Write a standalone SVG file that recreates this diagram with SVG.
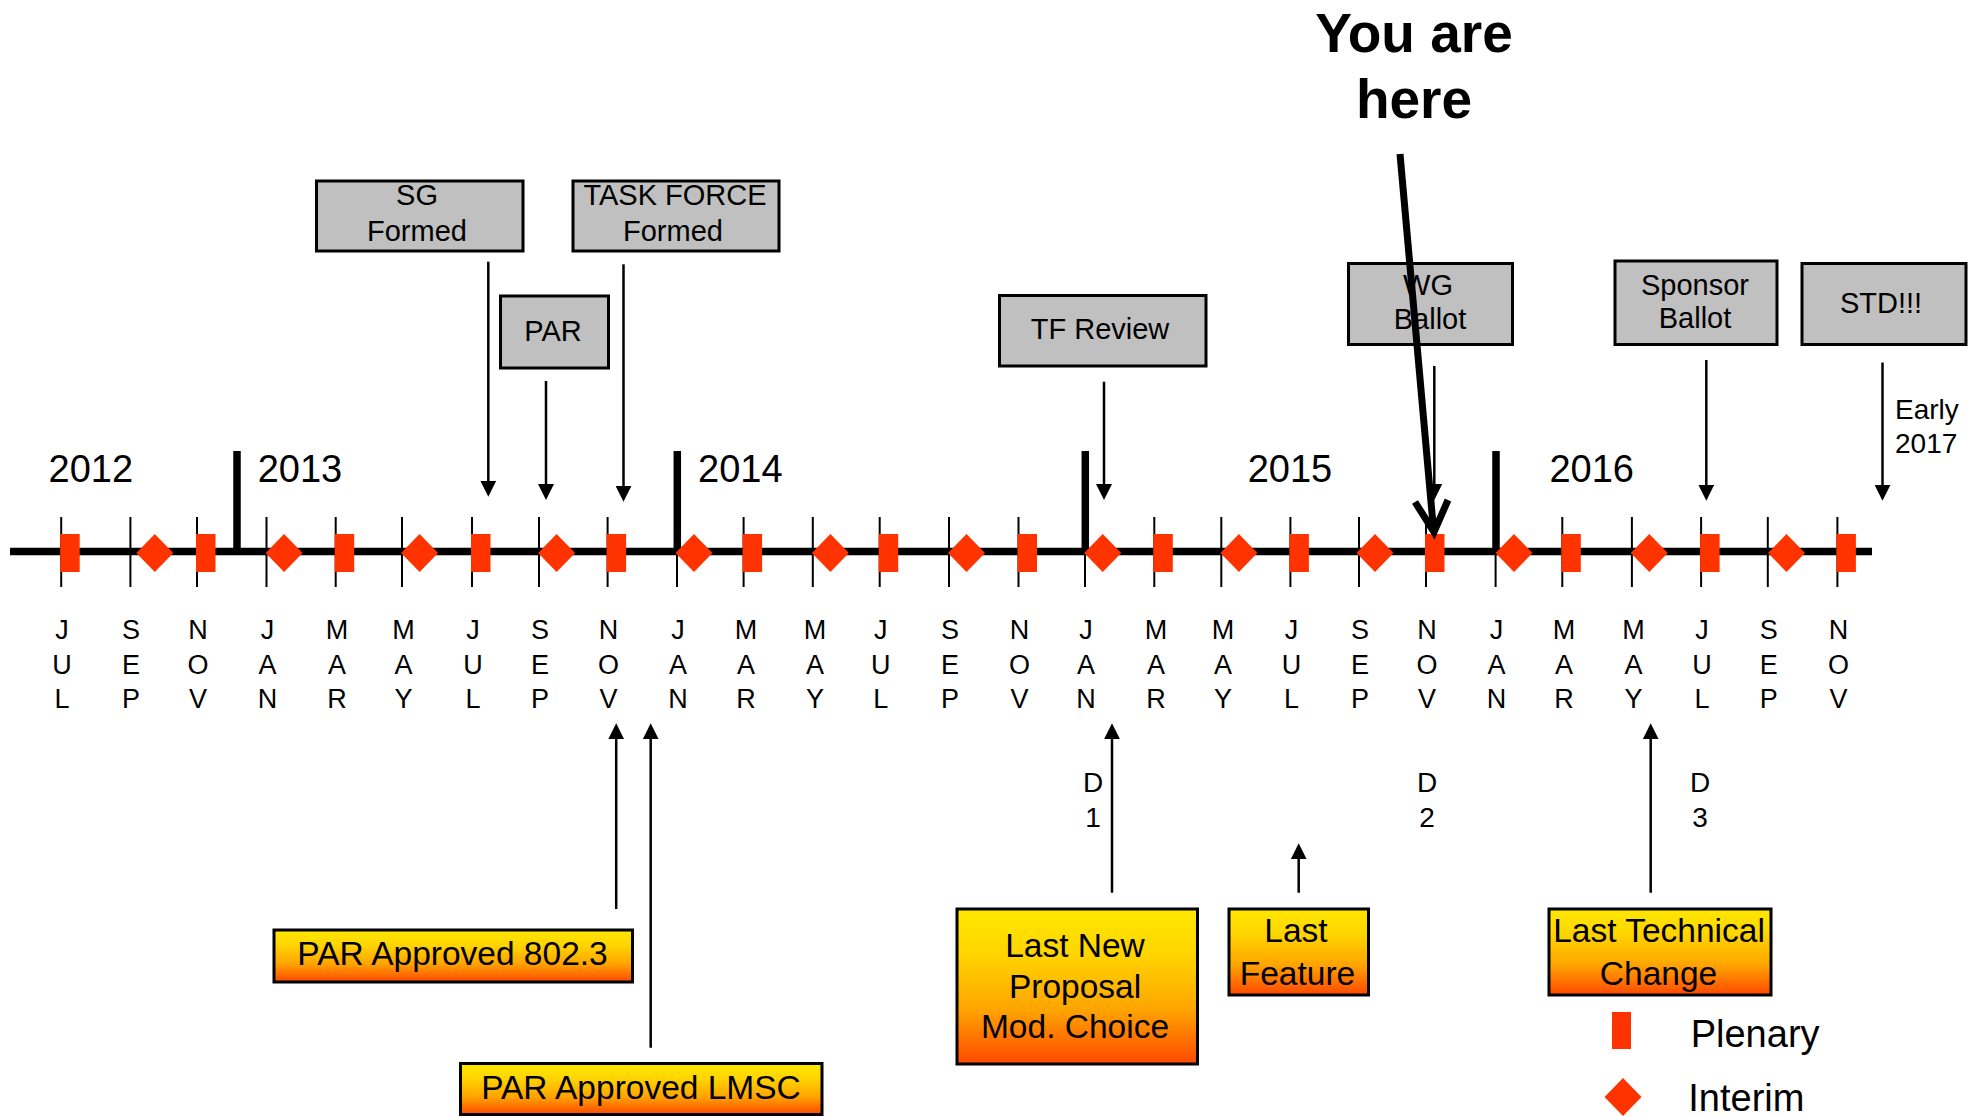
<svg xmlns="http://www.w3.org/2000/svg" xmlns:xlink="http://www.w3.org/1999/xlink" width="1974" height="1116" viewBox="0 0 1974 1116">
<style>
text{font-family:"Liberation Sans",Arial,sans-serif;fill:#000}
.m{font-size:27px;text-anchor:middle}
.yr{font-size:38px}
.gb{fill:#C0C0C0;stroke:#000;stroke-width:3}
.ob{fill:url(#og);stroke:#000;stroke-width:3}
.gt{font-size:29px;text-anchor:middle}
.ot{font-size:33.5px;text-anchor:middle}
.d{font-size:28px;text-anchor:middle}
.tick{stroke:#000;stroke-width:2}
.ytick{stroke:#000;stroke-width:7.5}
.arr{stroke:#000;stroke-width:2.5;fill:none;marker-end:url(#ah)}
.red{fill:#FF3300}
</style>
<defs>
<linearGradient id="og" x1="0" y1="0" x2="0" y2="1">
<stop offset="0" stop-color="#FFE800"/>
<stop offset="0.3" stop-color="#FFD400"/>
<stop offset="0.65" stop-color="#FFA400"/>
<stop offset="1" stop-color="#FF4800"/>
</linearGradient>
<marker id="ah" viewBox="0 0 16 16" refX="10" refY="8" markerWidth="16" markerHeight="16" markerUnits="userSpaceOnUse" orient="auto">
<path d="M0,0 L16,8 L0,16 Z" fill="#000"/>
</marker>
<path id="dia" d="M-18.5,0 L0,-19 L18.5,0 L0,19 Z"/>
<rect id="ple" x="0" y="0" width="19.5" height="38"/>
</defs>
<rect width="1974" height="1116" fill="#fff"/>

<g id="timeline">
<line x1="10" y1="551.5" x2="1872" y2="551.5" stroke="#000" stroke-width="7.5"/>
<g class="tick">
<line x1="61.2" y1="517" x2="61.2" y2="587"/>
<line x1="130.4" y1="517" x2="130.4" y2="587"/>
<line x1="197" y1="517" x2="197" y2="587"/>
<line x1="266.5" y1="517" x2="266.5" y2="587"/>
<line x1="335.7" y1="517" x2="335.7" y2="587"/>
<line x1="402" y1="517" x2="402" y2="587"/>
<line x1="472" y1="517" x2="472" y2="587"/>
<line x1="539" y1="517" x2="539" y2="587"/>
<line x1="607.6" y1="517" x2="607.6" y2="587"/>
<line x1="677" y1="517" x2="677" y2="587"/>
<line x1="743.6" y1="517" x2="743.6" y2="587"/>
<line x1="812.8" y1="517" x2="812.8" y2="587"/>
<line x1="879.7" y1="517" x2="879.7" y2="587"/>
<line x1="949" y1="517" x2="949" y2="587"/>
<line x1="1018.5" y1="517" x2="1018.5" y2="587"/>
<line x1="1085" y1="517" x2="1085" y2="587"/>
<line x1="1154.3" y1="517" x2="1154.3" y2="587"/>
<line x1="1221.3" y1="517" x2="1221.3" y2="587"/>
<line x1="1290.4" y1="517" x2="1290.4" y2="587"/>
<line x1="1359" y1="517" x2="1359" y2="587"/>
<line x1="1426" y1="517" x2="1426" y2="587"/>
<line x1="1495.6" y1="517" x2="1495.6" y2="587"/>
<line x1="1562.3" y1="517" x2="1562.3" y2="587"/>
<line x1="1631.9" y1="517" x2="1631.9" y2="587"/>
<line x1="1701.1" y1="517" x2="1701.1" y2="587"/>
<line x1="1767.8" y1="517" x2="1767.8" y2="587"/>
<line x1="1837.4" y1="517" x2="1837.4" y2="587"/>
</g>
<g class="ytick">
<line x1="237" y1="451" x2="237" y2="552"/>
<line x1="677.3" y1="451" x2="677.3" y2="552"/>
<line x1="1085.3" y1="451" x2="1085.3" y2="552"/>
<line x1="1496" y1="451" x2="1496" y2="552"/>
</g>
<g class="red">
<use xlink:href="#ple" x="60.2" y="534"/>
<use xlink:href="#ple" x="196" y="534"/>
<use xlink:href="#ple" x="334.7" y="534"/>
<use xlink:href="#ple" x="471" y="534"/>
<use xlink:href="#ple" x="606.6" y="534"/>
<use xlink:href="#ple" x="742.6" y="534"/>
<use xlink:href="#ple" x="878.7" y="534"/>
<use xlink:href="#ple" x="1017.5" y="534"/>
<use xlink:href="#ple" x="1153.3" y="534"/>
<use xlink:href="#ple" x="1289.4" y="534"/>
<use xlink:href="#ple" x="1425" y="534"/>
<use xlink:href="#ple" x="1561.3" y="534"/>
<use xlink:href="#ple" x="1700.1" y="534"/>
<use xlink:href="#ple" x="1836.4" y="534"/>
<use xlink:href="#dia" x="154.8" y="553"/>
<use xlink:href="#dia" x="284.1" y="553"/>
<use xlink:href="#dia" x="419.6" y="553"/>
<use xlink:href="#dia" x="556.6" y="553"/>
<use xlink:href="#dia" x="694" y="553"/>
<use xlink:href="#dia" x="830.4" y="553"/>
<use xlink:href="#dia" x="966.5" y="553"/>
<use xlink:href="#dia" x="1102.7" y="553"/>
<use xlink:href="#dia" x="1238.9" y="553"/>
<use xlink:href="#dia" x="1375" y="553"/>
<use xlink:href="#dia" x="1514" y="553"/>
<use xlink:href="#dia" x="1649.3" y="553"/>
<use xlink:href="#dia" x="1786.5" y="553"/>
</g>
<g id="years" class="yr">
<text x="48.5" y="481.5">2012</text>
<text x="257.7" y="481.5">2013</text>
<text x="698" y="481.5">2014</text>
<text x="1247.7" y="481.5">2015</text>
<text x="1549.4" y="481.5">2016</text>
</g>
<g id="months" class="m">
<text><tspan x="62" y="638.5">J</tspan><tspan x="62" y="673.5">U</tspan><tspan x="62" y="707.5">L</tspan></text>
<text><tspan x="131" y="638.5">S</tspan><tspan x="131" y="673.5">E</tspan><tspan x="131" y="707.5">P</tspan></text>
<text><tspan x="198" y="638.5">N</tspan><tspan x="198" y="673.5">O</tspan><tspan x="198" y="707.5">V</tspan></text>
<text><tspan x="267.5" y="638.5">J</tspan><tspan x="267.5" y="673.5">A</tspan><tspan x="267.5" y="707.5">N</tspan></text>
<text><tspan x="337" y="638.5">M</tspan><tspan x="337" y="673.5">A</tspan><tspan x="337" y="707.5">R</tspan></text>
<text><tspan x="403.5" y="638.5">M</tspan><tspan x="403.5" y="673.5">A</tspan><tspan x="403.5" y="707.5">Y</tspan></text>
<text><tspan x="473" y="638.5">J</tspan><tspan x="473" y="673.5">U</tspan><tspan x="473" y="707.5">L</tspan></text>
<text><tspan x="540" y="638.5">S</tspan><tspan x="540" y="673.5">E</tspan><tspan x="540" y="707.5">P</tspan></text>
<text><tspan x="608.6" y="638.5">N</tspan><tspan x="608.6" y="673.5">O</tspan><tspan x="608.6" y="707.5">V</tspan></text>
<text><tspan x="678" y="638.5">J</tspan><tspan x="678" y="673.5">A</tspan><tspan x="678" y="707.5">N</tspan></text>
<text><tspan x="746" y="638.5">M</tspan><tspan x="746" y="673.5">A</tspan><tspan x="746" y="707.5">R</tspan></text>
<text><tspan x="815" y="638.5">M</tspan><tspan x="815" y="673.5">A</tspan><tspan x="815" y="707.5">Y</tspan></text>
<text><tspan x="880.7" y="638.5">J</tspan><tspan x="880.7" y="673.5">U</tspan><tspan x="880.7" y="707.5">L</tspan></text>
<text><tspan x="950" y="638.5">S</tspan><tspan x="950" y="673.5">E</tspan><tspan x="950" y="707.5">P</tspan></text>
<text><tspan x="1019.5" y="638.5">N</tspan><tspan x="1019.5" y="673.5">O</tspan><tspan x="1019.5" y="707.5">V</tspan></text>
<text><tspan x="1086" y="638.5">J</tspan><tspan x="1086" y="673.5">A</tspan><tspan x="1086" y="707.5">N</tspan></text>
<text><tspan x="1156" y="638.5">M</tspan><tspan x="1156" y="673.5">A</tspan><tspan x="1156" y="707.5">R</tspan></text>
<text><tspan x="1223" y="638.5">M</tspan><tspan x="1223" y="673.5">A</tspan><tspan x="1223" y="707.5">Y</tspan></text>
<text><tspan x="1291.4" y="638.5">J</tspan><tspan x="1291.4" y="673.5">U</tspan><tspan x="1291.4" y="707.5">L</tspan></text>
<text><tspan x="1360" y="638.5">S</tspan><tspan x="1360" y="673.5">E</tspan><tspan x="1360" y="707.5">P</tspan></text>
<text><tspan x="1427" y="638.5">N</tspan><tspan x="1427" y="673.5">O</tspan><tspan x="1427" y="707.5">V</tspan></text>
<text><tspan x="1496.6" y="638.5">J</tspan><tspan x="1496.6" y="673.5">A</tspan><tspan x="1496.6" y="707.5">N</tspan></text>
<text><tspan x="1564" y="638.5">M</tspan><tspan x="1564" y="673.5">A</tspan><tspan x="1564" y="707.5">R</tspan></text>
<text><tspan x="1633.5" y="638.5">M</tspan><tspan x="1633.5" y="673.5">A</tspan><tspan x="1633.5" y="707.5">Y</tspan></text>
<text><tspan x="1702.1" y="638.5">J</tspan><tspan x="1702.1" y="673.5">U</tspan><tspan x="1702.1" y="707.5">L</tspan></text>
<text><tspan x="1768.8" y="638.5">S</tspan><tspan x="1768.8" y="673.5">E</tspan><tspan x="1768.8" y="707.5">P</tspan></text>
<text><tspan x="1838.4" y="638.5">N</tspan><tspan x="1838.4" y="673.5">O</tspan><tspan x="1838.4" y="707.5">V</tspan></text>
</g>
<g id="drafts" class="d">
<text><tspan x="1093" y="791.7">D</tspan><tspan x="1093" y="826.7">1</tspan></text>
<text><tspan x="1427" y="791.7">D</tspan><tspan x="1427" y="826.7">2</tspan></text>
<text><tspan x="1700" y="791.7">D</tspan><tspan x="1700" y="826.7">3</tspan></text>
</g>
</g>

<g id="sg-formed">
<rect class="gb" x="316.5" y="181" width="206.5" height="70"/>
<text class="gt"><tspan x="417" y="205">SG</tspan><tspan x="417" y="240.7">Formed</tspan></text>
</g>
<g id="tf-formed">
<rect class="gb" x="573" y="181" width="206" height="70"/>
<text class="gt"><tspan x="675" y="205">TASK FORCE</tspan><tspan x="673" y="240.7">Formed</tspan></text>
</g>
<g id="par">
<rect class="gb" x="500.5" y="296" width="108" height="72"/>
<text class="gt" x="553" y="340.7">PAR</text>
</g>
<g id="tf-review">
<rect class="gb" x="999.5" y="295.5" width="206.5" height="70.5"/>
<text class="gt" x="1100" y="339">TF Review</text>
</g>
<g id="wg-ballot">
<rect class="gb" x="1348.5" y="263.5" width="164" height="81"/>
<text class="gt"><tspan x="1428" y="294.6">WG</tspan><tspan x="1430" y="328.6">Ballot</tspan></text>
</g>
<g id="sponsor-ballot">
<rect class="gb" x="1615" y="261" width="162" height="83.5"/>
<text class="gt"><tspan x="1695" y="294.6">Sponsor</tspan><tspan x="1695" y="328.3">Ballot</tspan></text>
</g>
<g id="std">
<rect class="gb" x="1802" y="263.5" width="164" height="81"/>
<text class="gt" x="1881" y="313">STD!!!</text>
</g>
<g id="early-2017">
<text style="font-size:28px"><tspan x="1895" y="418.6">Early</tspan><tspan x="1895" y="452.9">2017</tspan></text>
</g>
<g id="you-are-here">
<text style="font-size:55px;font-weight:bold;text-anchor:middle"><tspan x="1414" y="52">You are</tspan><tspan x="1414" y="118">here</tspan></text>
</g>

<g id="par-approved-8023">
<rect class="ob" x="274" y="930" width="358.5" height="52"/>
<text class="ot" x="452.5" y="965">PAR Approved 802.3</text>
</g>
<g id="par-approved-lmsc">
<rect class="ob" x="460.5" y="1063.5" width="361.5" height="51"/>
<text class="ot" x="641" y="1099.3">PAR Approved LMSC</text>
</g>
<g id="last-new-proposal">
<rect class="ob" x="957" y="909" width="240.5" height="155"/>
<text class="ot"><tspan x="1075" y="956.7">Last New</tspan><tspan x="1075" y="998.3">Proposal</tspan><tspan x="1075" y="1038.3">Mod. Choice</tspan></text>
</g>
<g id="last-feature">
<rect class="ob" x="1229" y="909" width="139.5" height="86"/>
<text class="ot"><tspan x="1296" y="942.3">Last</tspan><tspan x="1297.5" y="985">Feature</tspan></text>
</g>
<g id="last-technical-change">
<rect class="ob" x="1549" y="909" width="222" height="86"/>
<text class="ot"><tspan x="1659" y="942.3">Last Technical</tspan><tspan x="1658.5" y="985">Change</tspan></text>
</g>

<g id="legend">
<rect class="red" x="1612" y="1012" width="19" height="37"/>
<text x="1690.7" y="1046.7" style="font-size:38px">Plenary</text>
<use class="red" xlink:href="#dia" x="1623" y="1097"/>
<text x="1688.3" y="1111" style="font-size:38px">Interim</text>
</g>

<g id="connectors">
<line class="arr" x1="488.3" y1="261.7" x2="488.3" y2="490.7"/>
<line class="arr" x1="546" y1="381" x2="546" y2="494"/>
<line class="arr" x1="623.5" y1="264.3" x2="623.5" y2="495.7"/>
<line class="arr" x1="1104" y1="381.7" x2="1104" y2="494"/>
<line class="arr" x1="1434.3" y1="366" x2="1434.3" y2="494"/>
<line class="arr" x1="1706.3" y1="360" x2="1706.3" y2="494.7"/>
<line class="arr" x1="1882.5" y1="362.5" x2="1882.5" y2="494.7"/>
<line class="arr" x1="616.2" y1="909" x2="616.2" y2="729.3"/>
<line class="arr" x1="650.7" y1="1047.7" x2="650.7" y2="729.3"/>
<line class="arr" x1="1112" y1="892.7" x2="1112" y2="729.3"/>
<line class="arr" x1="1298.7" y1="892.7" x2="1298.7" y2="849.3"/>
<line class="arr" x1="1650.7" y1="892.7" x2="1650.7" y2="729.3"/>
<g id="you-are-here-arrow" stroke="#000" stroke-width="7" fill="none">
<line x1="1400" y1="154" x2="1433.5" y2="530"/>
<polyline points="1415,502 1434,532 1448,500" stroke-linejoin="miter"/>
</g>
</g>
</svg>
